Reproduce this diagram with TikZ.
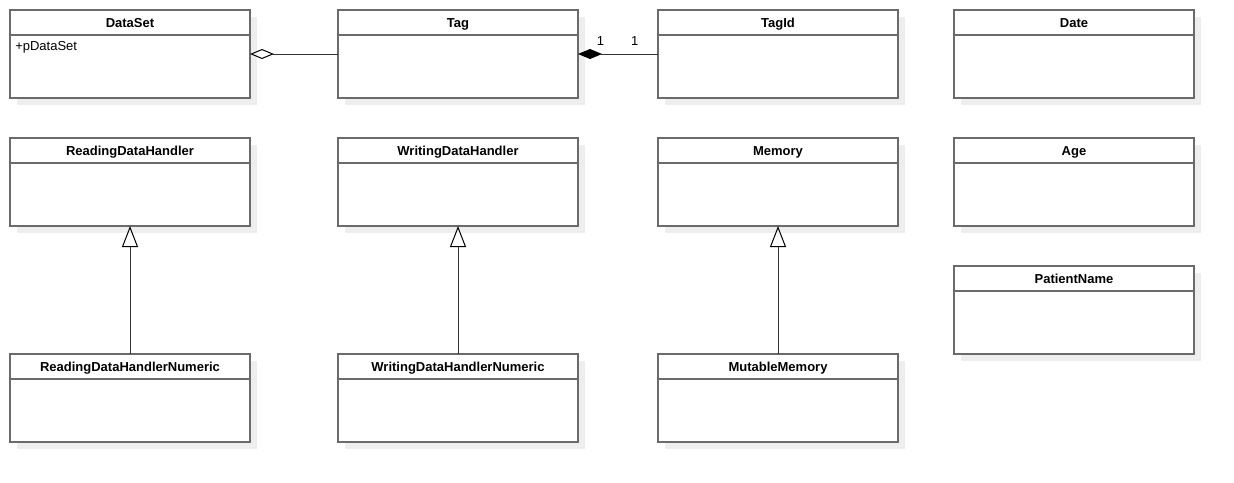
\documentclass[tikz,border=0pt]{standalone}
\usepackage{fontspec}
\setmainfont{Liberation Sans}
\usetikzlibrary{arrows.meta,positioning,shadows}
\definecolor{edge}{HTML}{6B6B6B}
\definecolor{shade}{HTML}{EEEEEE}
\definecolor{wire}{HTML}{333333}
\tikzset{
  cls/.style={draw=edge,fill=white,line width=1.1pt,outer sep=0pt,minimum width=180pt,minimum height=66pt,inner sep=0pt,
    drop shadow={shadow xshift=5.25pt,shadow yshift=-5.25pt,fill=shade,opacity=1}},
  ttl/.style={anchor=north,outer sep=0pt,minimum width=180pt,minimum height=18.75pt,inner sep=0pt,text height=8.5pt,text depth=0.5pt,
    font=\fontsize{9.75}{11}\selectfont\bfseries},
  attr/.style={anchor=base west,inner sep=0pt,font=\fontsize{9.75}{11}\selectfont},
  sep/.style={draw=edge,line width=1.1pt},
  mult/.style={above=6pt,inner sep=0pt,font=\fontsize{9.75}{11}\selectfont},
  agg/.style={{Diamond[open,length=18pt,width=7.5pt,color=black]}-,line width=0.75pt,draw=wire},
  comp/.style={{Diamond[length=18pt,width=7.5pt,color=black,fill=black]}-,line width=0.75pt,draw=wire},
  inh/.style={-{Triangle[open,length=15.75pt,width=12pt,color=black]},line width=0.75pt,draw=wire},
}

\begin{document}
\begin{tikzpicture}[x=0.75pt,y=-0.75pt]
\useasboundingbox (0,0) rectangle (1234,482);
\node[cls] (ds) at (130,54) {};
\node[cls,right=66pt of ds] (tg) {};
\node[cls,right=60pt of tg] (ti) {};
\node[cls,right=42pt of ti] (dt) {};
\node[cls,below=30pt of ds] (rdh) {};
\node[cls,below=30pt of tg] (wdh) {};
\node[cls,below=30pt of ti] (mem) {};
\node[cls,below=30pt of dt] (age) {};
\node[cls,below=30pt of age] (pn) {};
\node[cls,below=96pt of rdh] (rdn) {};
\node[cls,below=96pt of wdh] (wdn) {};
\node[cls,below=96pt of mem] (mm) {};
% class names
\foreach \n/\t in {ds/DataSet,tg/Tag,ti/TagId,dt/Date,rdh/ReadingDataHandler,wdh/WritingDataHandler,mem/Memory,age/Age,pn/PatientName,rdn/ReadingDataHandlerNumeric,wdn/WritingDataHandlerNumeric,mm/MutableMemory}{
  \node[ttl] (\n-h) at (\n.north) {\t};
  \draw[sep] (\n-h.south west) -- (\n-h.south east);
}
\node[attr] (ds-a) at ([xshift=3.75pt,yshift=-11.25pt]ds-h.south west) {+pDataSet};
% relations
\draw[agg] (ds.east) -- (tg.west);
\draw[comp] (tg.east) -- node[mult,pos=0.28] (m1) {1} node[mult,pos=0.71] (m2) {1} (ti.west);
\draw[inh] (rdn.north) -- (rdh.south);
\draw[inh] (wdn.north) -- (wdh.south);
\draw[inh] (mm.north) -- (mem.south);
\end{tikzpicture}
\end{document}
